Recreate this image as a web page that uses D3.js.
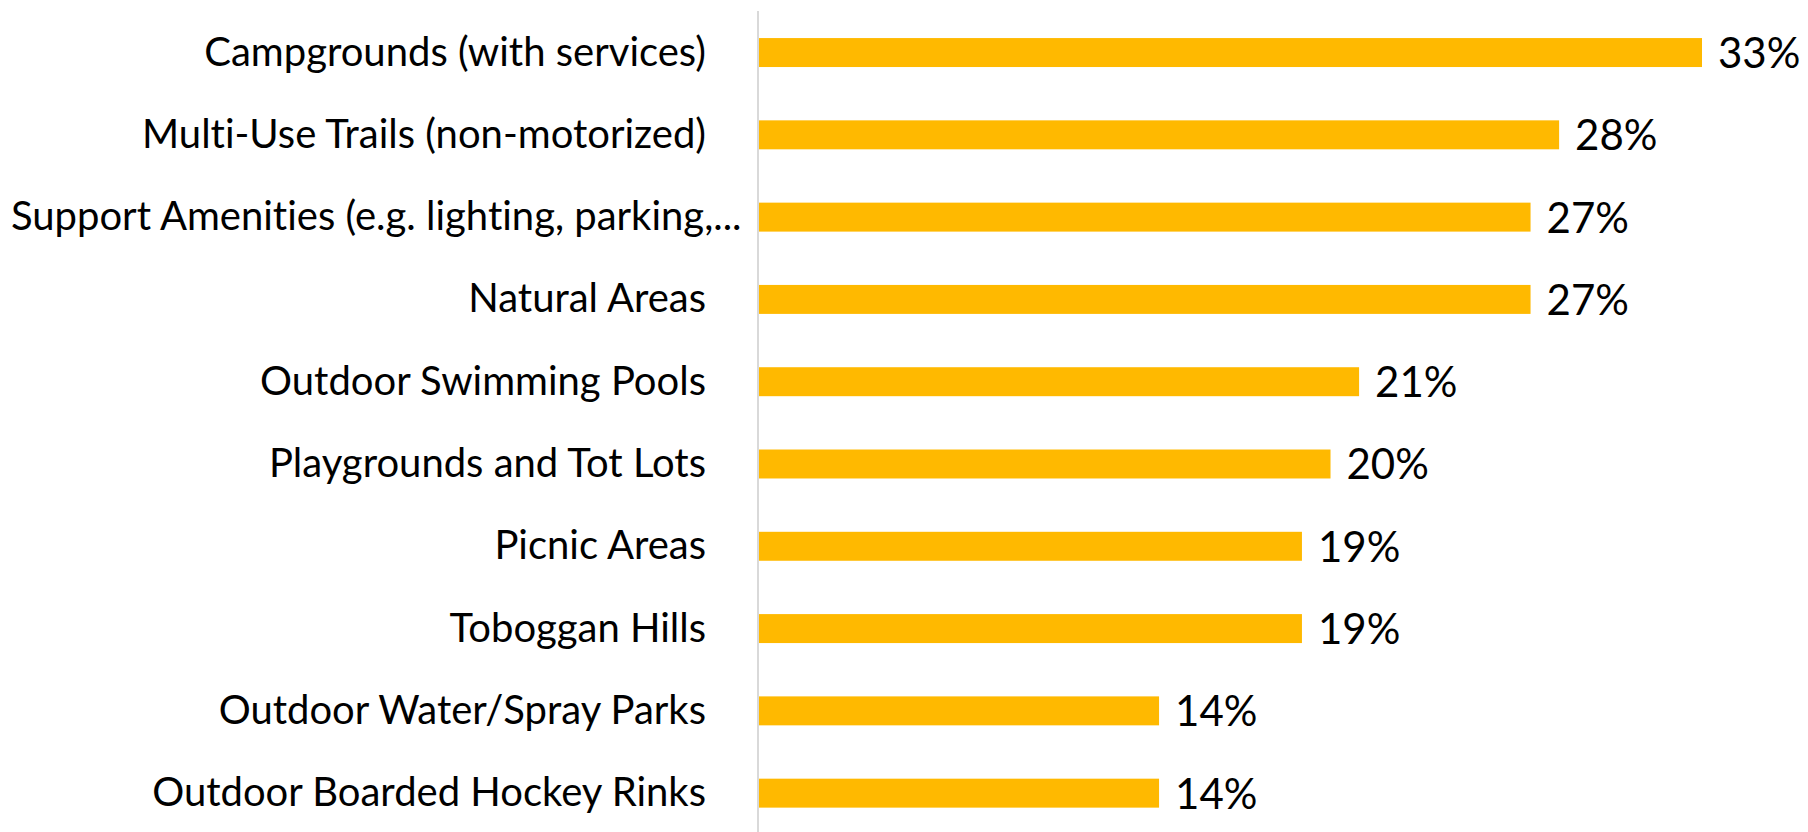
<!DOCTYPE html>
<html>
<head>
<meta charset="utf-8">
<script src="https://cdn.jsdelivr.net/npm/d3@7/dist/d3.min.js"></script>
<style>
  html, body { margin: 0; padding: 0; background: #fff; }
  svg { display: block; }
  text { font-family: Lato, "Open Sans", sans-serif; fill: #000;
         font-variant-ligatures: none; font-feature-settings: "liga" 0, "clig" 0; }
</style>
</head>
<body>
<svg id="chart" width="1808" height="832"></svg>
<script>
const categories = [
  "Campgrounds (with services)",
  "Multi-Use Trails (non-motorized)",
  "Support Amenities (e.g. lighting, parking,...",
  "Natural Areas",
  "Outdoor Swimming Pools",
  "Playgrounds and Tot Lots",
  "Picnic Areas",
  "Toboggan Hills",
  "Outdoor Water/Spray Parks",
  "Outdoor Boarded Hockey Rinks"
];
const values = [33, 28, 27, 27, 21, 20, 19, 19, 14, 14];
const valueLabels = ["33%", "28%", "27%", "27%", "21%", "20%", "19%", "19%", "14%", "14%"];

const W = 1808, H = 832;
const axisX = 758;
const svg = d3.select("#chart");

const x = d3.scaleLinear().domain([0, 33]).range([axisX + 1, 1702]);
const y = d3.scaleBand().domain(categories).range([11.4, 834.3])
  .paddingInner(0.648).paddingOuter(0.324);

// bars
svg.append("g").selectAll("rect").data(categories).join("rect")
  .attr("x", x(0))
  .attr("y", d => y(d))
  .attr("width", (d, i) => x(values[i]) - x(0))
  .attr("height", y.bandwidth())
  .attr("fill", "#FFB900");

// vertical axis line
svg.append("line")
  .attr("x1", axisX).attr("x2", axisX)
  .attr("y1", 11).attr("y2", H)
  .attr("stroke", "#d9d9d9").attr("stroke-width", 2);

// category labels
const labelRight = axisX - 52;
const minLeft = 11;
const cat = svg.append("g").selectAll("text").data(categories).join("text")
  .attr("y", d => y(d) + y.bandwidth() / 2 + 13)
  .attr("font-size", 40)
  .attr("text-anchor", "start")
  .text(d => d);
cat.each(function() {
  const w = this.getComputedTextLength();
  const left = Math.max(minLeft, labelRight - w);
  d3.select(this).attr("x", left);
});

// value labels
svg.append("g").selectAll("text").data(categories).join("text")
  .attr("x", (d, i) => x(values[i]) + 16)
  .attr("y", d => y(d) + y.bandwidth() / 2 + 15.5)
  .attr("font-size", 42)
  .text((d, i) => valueLabels[i]);
</script>
</body>
</html>
